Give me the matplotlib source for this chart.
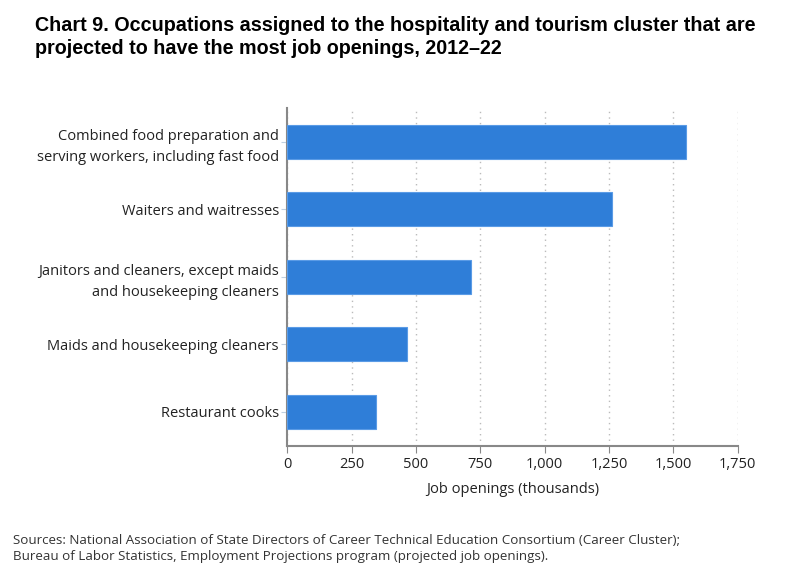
import numpy as np
import matplotlib.pyplot as plt

occupations = [
    "Combined food preparation and\nserving workers, including fast food",
    "Waiters and waitresses",
    "Janitors and cleaners, except maids\nand housekeeping cleaners",
    "Maids and housekeeping cleaners",
    "Restaurant cooks",
]
openings = [1548, 1263, 713, 466, 346]
xticks = [0, 250, 500, 750, 1000, 1250, 1500, 1750]
xticklabels = ["0", "250", "500", "750", "1,000", "1,250", "1,500", "1,750"]

plt.rcParams['font.family'] = ['Open Sans', 'DejaVu Sans']

fig = plt.figure(figsize=(8.1, 5.8), dpi=100)
ax = fig.add_axes([0.3547, 0.2316, 0.5558, 0.5822])

y = np.arange(len(occupations))
ax.barh(y, openings, height=0.5, color="#2F7ED8", edgecolor="#5A9BE6", linewidth=0.8, zorder=3)

ax.set_ylim(len(occupations) - 0.5, -0.5)
ax.set_xlim(0, 1750)
ax.set_yticks(y)
ax.set_yticklabels(occupations, fontsize=10.5, color="#222222", linespacing=1.6)
ax.set_xticks(xticks)
ax.set_xticklabels(xticklabels, fontsize=10.5, color="#222222")
ax.tick_params(axis="y", length=4, color="#C0D0E0", pad=2)
ax.tick_params(axis="x", length=5, color="#888888", pad=3)

ax.grid(axis="x", linestyle=(0, (1, 3)), color="#BBBBBB", linewidth=1, zorder=0)
ax.spines["top"].set_visible(False)
ax.spines["right"].set_visible(False)
ax.spines["left"].set_color("#888888")
ax.spines["bottom"].set_color("#888888")
ax.spines["left"].set_linewidth(1.5)
ax.spines["bottom"].set_linewidth(1.5)

ax.set_xlabel("Job openings (thousands)", fontsize=10.5, color="#222222", labelpad=7)

fig.text(0.043, 0.972, "Chart 9. Occupations assigned to the hospitality and tourism cluster that are\nprojected to have the most job openings, 2012\u201322",
         fontsize=14.2, fontweight="bold", family="Liberation Sans", va="top", ha="left", linespacing=1.25)

fig.text(0.016, 0.08, "Sources: National Association of State Directors of Career Technical Education Consortium (Career Cluster);\nBureau of Labor Statistics, Employment Projections program (projected job openings).",
         fontsize=9.6, color="#333333", va="top", ha="left", linespacing=1.35)

fig.savefig("out.png", dpi=100)
